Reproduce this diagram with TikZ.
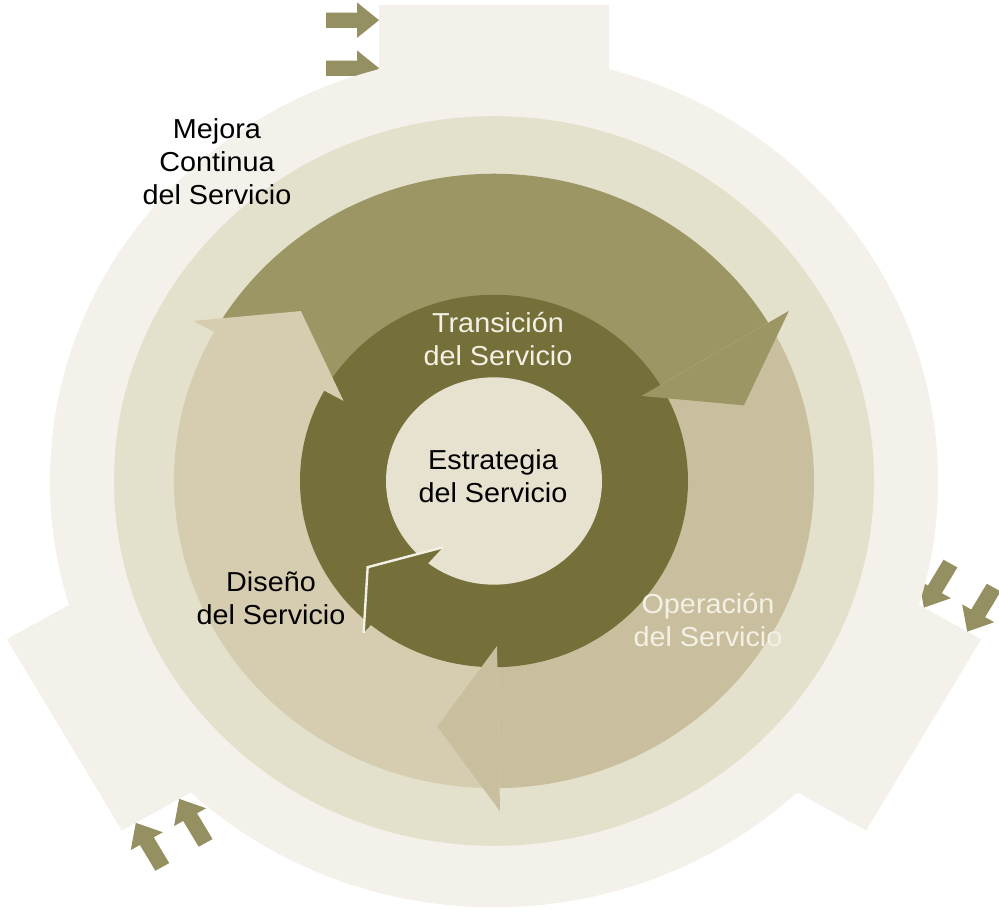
\documentclass[tikz,border=0pt]{standalone}
\usepackage{fontspec}
\setmainfont{Liberation Sans}[FakeStretch=1.05]
\definecolor{outerc}{HTML}{F4F0EA}
\definecolor{ringc}{HTML}{E3E0CB}
\definecolor{transc}{HTML}{9C9665}
\definecolor{disenoc}{HTML}{D6CDB0}
\definecolor{operc}{HTML}{C9BF9E}
\definecolor{darkc}{HTML}{75703A}
\definecolor{innerc}{HTML}{E6E2CF}
\definecolor{smallarr}{HTML}{959061}
\definecolor{lighttxt}{HTML}{F3F1E5}
\begin{document}
\begin{tikzpicture}[x=0.025cm, y=0.025cm,
  lbl/.style={align=center, inner sep=0pt, font=\fontsize{19.5}{23.5}\selectfont},
  tabarrow/.style={fill=smallarr},
  headgap/.style={draw=lighttxt, line width=1.7pt}]
\fill[white] (0,0) rectangle (999,912);
\useasboundingbox (0,0) rectangle (999,912);

\begin{scope}[shift={(494,431)}, yscale=0.96]
  % three tabs, each with a pair of feeding arrows
  \foreach \a/\dy in {90/0,210/-16.5,330/-16.5} {
    \begin{scope}[shift={(0,\dy)}, rotate=\a-90]
      \fill[outerc] (-115,0) rectangle (115,496);
      \foreach \r in {480,430}
        \fill[tabarrow] (-168,\r-8) -- (-137,\r-8) -- (-137,\r-18.5)
          -- (-115,\r) -- (-137,\r+18.5) -- (-137,\r+8) -- (-168,\r+8) -- cycle;
    \end{scope}
  }
  % outer rings
  \fill[outerc] (0,0) circle[radius=444];
  \fill[ringc] (0,0) circle[radius=380];
  % bodies of the three lifecycle arrows
  \fill[transc] (0,0) -- (31:320) arc[start angle=31, end angle=151, radius=320] -- cycle;
  \fill[disenoc] (0,0) -- (151:320) arc[start angle=151, end angle=271, radius=320] -- cycle;
  \fill[operc] (0,0) -- (271:320) arc[start angle=271, end angle=391, radius=320] -- cycle;
  % strategy ring and core
  \fill[darkc] (0,0) circle[radius=194];
  \fill[innerc] (0,0) circle[radius=108];
  % heads of the three lifecycle arrows
  \foreach \b/\c in {31/transc, 151/disenoc, 271/operc}
    \fill[\c] (\b:172) -- (\b-13.5:262) -- (\b:344) -- cycle;
  % head of the strategy ring arrow
  \fill[darkc] (233.5:86) -- (215.4:155) -- (230.5:205) -- cycle;
  \draw[headgap] (230.5:205) -- (215.4:155) -- (233.5:86);
\end{scope}

\node[lbl] (estr) at (493,436) {Estrategia\\del Servicio};
\node[lbl, text=lighttxt] (trans) at (498,573) {Transición\\del Servicio};
\node[lbl, text=lighttxt] (oper) at (708,292) {Operación\\del Servicio};
\node[lbl] (dis) at (271,314) {Diseño\\del Servicio};
\node[lbl] (mejora) at (217,750) {Mejora\\Continua\\del Servicio};
\end{tikzpicture}
\end{document}
